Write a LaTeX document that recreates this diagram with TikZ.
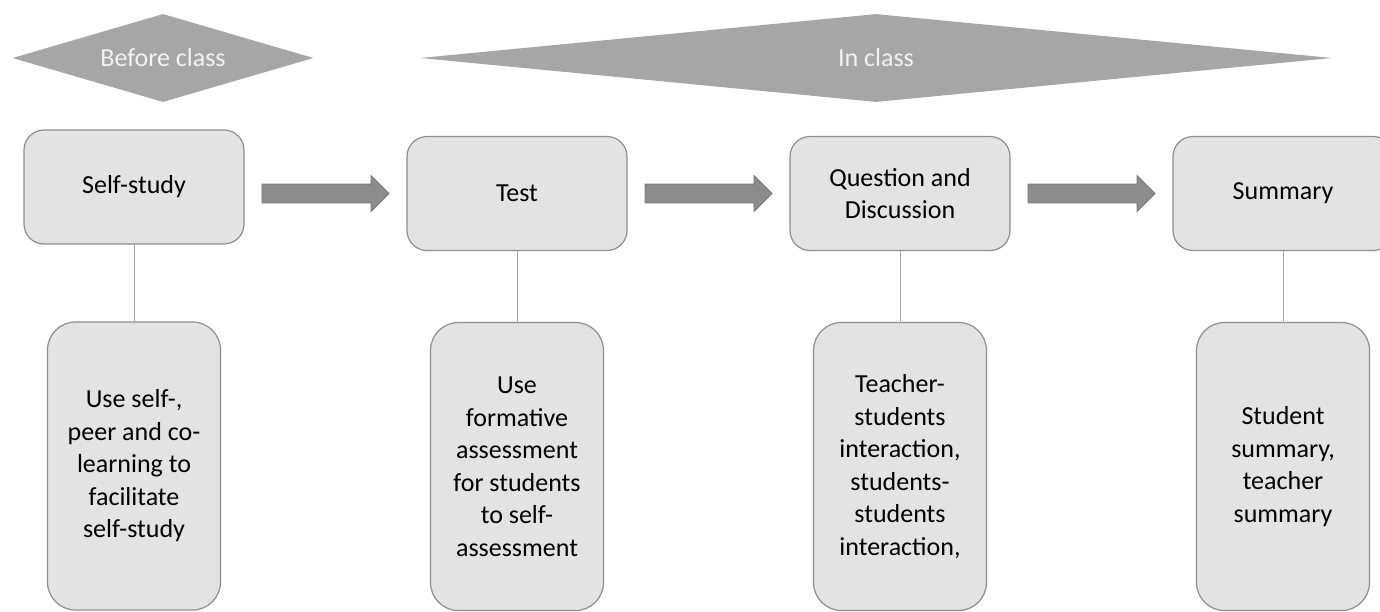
\documentclass[tikz,border=0pt]{standalone}
\usepackage{fontspec}
\setmainfont{Carlito}
\usetikzlibrary{positioning,shapes.geometric,shapes.arrows}
\definecolor{boxfill}{HTML}{E3E3E3}
\definecolor{boxline}{HTML}{8E8E8E}
\definecolor{phasefill}{HTML}{A6A6A6}
\definecolor{arrowfill}{HTML}{8C8C8C}
\definecolor{arrowline}{HTML}{7A7A7A}
\definecolor{linkgray}{HTML}{A8A8A8}
\begin{document}
\begin{tikzpicture}
[x=1pt, y=-1pt, font=\fontsize{26}{32.5}\selectfont,
stage/.style={draw=boxline, fill=boxfill, line width=1.2pt, outer sep=0pt, rounded corners=20pt, minimum width=220pt, minimum height=114pt, align=center},
detail/.style={stage, rounded corners=28pt, minimum width=173pt, minimum height=288pt},
phase/.style={diamond, fill=phasefill, text=white!95!black, inner sep=0pt, minimum height=88pt},
flow/.style={single arrow, fill=arrowfill, draw=arrowline, line width=0.8pt, outer sep=0pt, minimum height=127pt, single arrow head extend=8.5pt, inner xsep=0pt, inner ysep=9pt},
link/.style={draw=linkgray, line width=1pt}]

\useasboundingbox (0,0) rectangle (1380,611);

\node [phase, aspect=3.4, minimum width=301pt] (before) at (163,58) {Before class};
\node [phase, aspect=10, minimum width=912pt] (inclass) at (876,58) {In class};

\node [stage] (self) at (134,187) {Self-study};
\node [stage, right=163pt of self, yshift=-6.5pt] (test) {Test};
\node [stage, right=163pt of test] (quest) {Question and\\Discussion};
\node [stage, right=163pt of quest] (summ) {Summary};

\node [flow, left=18pt of test] (f1) {};
\node [flow, left=18pt of quest] (f2) {};
\node [flow, left=18pt of summ] (f3) {};

\node [detail, below=78pt of self] (selfnote) {Use self-,\\peer and co-\\learning to\\facilitate\\self-study};
\node [detail, below=72pt of test] (testnote) {Use\\formative\\assessment\\for students\\to self-\\assessment};
\node [detail, below=72pt of quest] (questnote) {Teacher-\\students\\interaction,\\students-\\students\\interaction,};
\node [detail, below=72pt of summ] (summnote) {Student\\summary,\\teacher\\summary};

\draw [link] (self) -- (selfnote);
\draw [link] (test) -- (testnote);
\draw [link] (quest) -- (questnote);
\draw [link] (summ) -- (summnote);
\end{tikzpicture}
\end{document}
